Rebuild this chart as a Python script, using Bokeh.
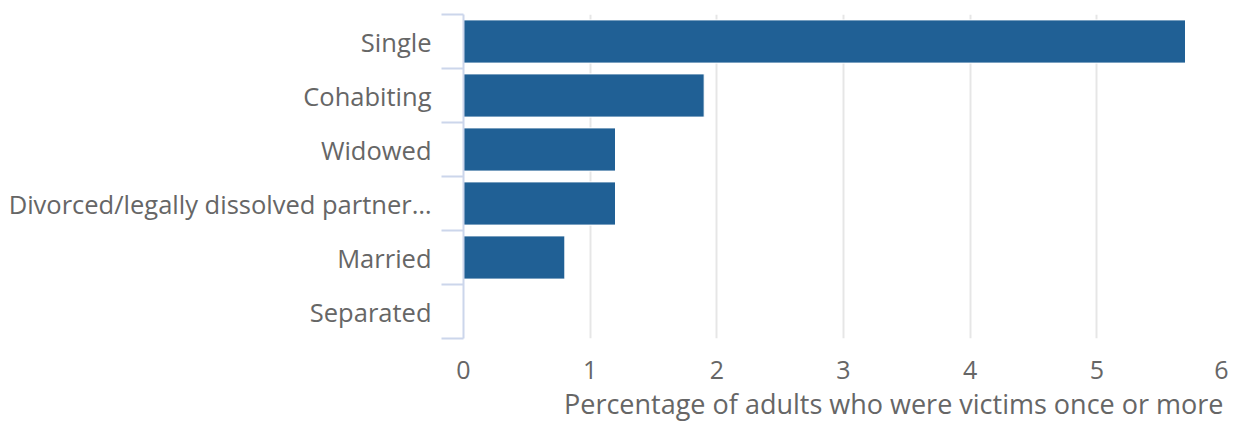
from bokeh.plotting import figure
from bokeh.models import Range1d, FixedTicker, Title
from bokeh.embed import file_html
from bokeh.resources import INLINE

categories = ["Single", "Cohabiting", "Widowed", "Divorced/legally dissolved partner\u2026", "Married", "Separated"]
values = [5.7, 1.9, 1.2, 1.2, 0.8, 0.0]
x_ticks = [0, 1, 2, 3, 4, 5, 6]
x_title = "Percentage of adults who were victims once or more"

FONT = "Open Sans"
TEXT = "#666666"

pos = list(range(len(categories)))

p = figure(width=1228, height=422, output_backend="svg", toolbar_location=None,
           x_range=Range1d(0, 6), y_range=Range1d(len(categories) - 0.5, -0.5),
           min_border_left=463, min_border_right=5, min_border_top=14, min_border_bottom=10)
p.outline_line_color = None
p.background_fill_color = "white"

p.hbar(y=pos, right=values, left=0, height=0.8, fill_color="#206095", line_color="white", line_width=1)

# x axis
xa = p.xaxis[0]
xa.ticker = FixedTicker(ticks=x_ticks)
xa.axis_line_color = None
xa.major_tick_line_color = None
xa.minor_tick_line_color = None
xa.major_tick_out = 0
xa.major_tick_in = 0
xa.major_label_standoff = 22
xa.major_label_text_font = FONT
xa.major_label_text_font_size = "25px"
xa.major_label_text_color = TEXT

# y axis
ya = p.yaxis[0]
ya.ticker = FixedTicker(ticks=pos, minor_ticks=[i - 0.5 for i in range(len(categories) + 1)])
ya.major_label_overrides = {i: c for i, c in enumerate(categories)}
ya.axis_line_color = "#ccd6eb"
ya.axis_line_width = 2
ya.major_tick_line_color = None
ya.major_tick_out = 0
ya.major_tick_in = 0
ya.minor_tick_line_color = "#ccd6eb"
ya.minor_tick_line_width = 2
ya.minor_tick_out = 22
ya.minor_tick_in = 0
ya.major_label_standoff = 10
ya.major_label_text_font = FONT
ya.major_label_text_font_size = "25.5px"
ya.major_label_text_color = TEXT

p.xgrid.grid_line_color = "#e6e6e6"
p.xgrid.grid_line_width = 2
p.ygrid.grid_line_color = None

t = Title(text=x_title, align="right", text_font=FONT, text_font_size="27px",
          text_color=TEXT, text_font_style="normal", standoff=2)
p.add_layout(t, "below")

open("out.html", "w").write(file_html(p, INLINE))
